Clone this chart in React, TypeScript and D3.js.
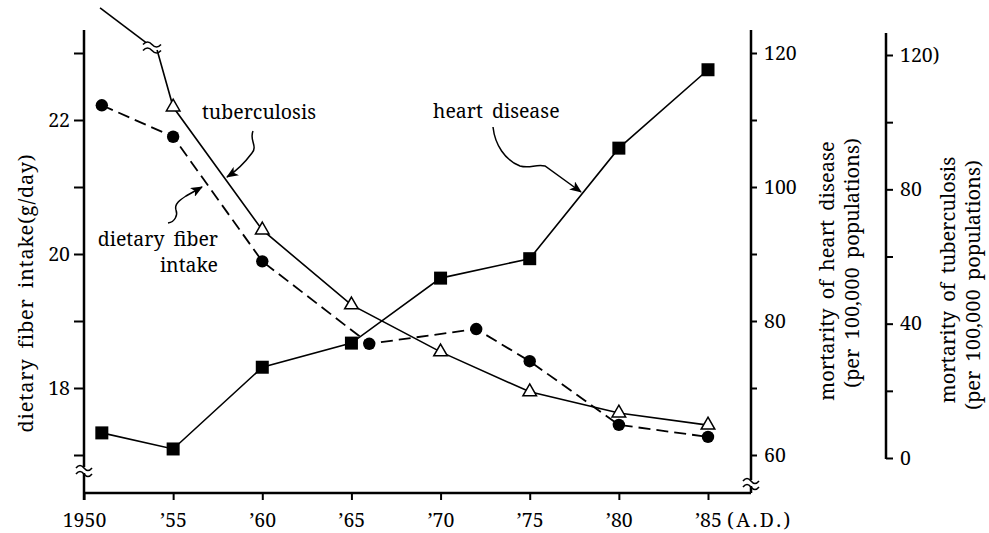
import { useEffect, useRef } from "react";
import * as d3 from "d3";

// values
const years = [1951, 1955, 1960, 1965, 1970, 1975, 1980, 1985];
const heartDisease = [63.3, 60.9, 73.1, 76.7, 86.4, 89.3, 105.8, 117.5];

const fiberYears = [1951, 1955, 1960, 1966, 1972, 1975, 1980, 1985];
const fiberIntake = [22.22, 21.75, 19.89, 18.66, 18.88, 18.4, 17.45, 17.27];

const tbYears = [1955, 1960, 1965, 1970, 1975, 1980, 1985];
const tuberculosis = [104.5, 67.9, 45.6, 31.6, 19.7, 13.4, 9.8];
// early tuberculosis values run off the scale, drawn past a break
const tbUpperYears = [1950.9, 1953.5];
const tbUpperValues = [134, 123.6];
const tbBreakYear = 1954.1;
const tbBreakValue = 121.5;

const xTicks = [1950, 1955, 1960, 1965, 1970, 1975, 1980, 1985];
const fiberTicks = [17, 18, 19, 20, 21, 22, 23];
const fiberLabels = [18, 20, 22];
const heartTicks = [60, 70, 80, 90, 100, 110, 120];
const heartLabels = [60, 80, 100, 120];
const tbTicks = [0, 20, 40, 60, 80, 100, 120];
const tbLabels: Record<number, string> = { 0: "0", 40: "40", 80: "80", 120: "120)" };

const FONT = "Noto Serif";

export default function App() {
  const ref = useRef<SVGSVGElement | null>(null);

  useEffect(() => {
    if (!ref.current) return;
    const width = 989;
    const height = 533;
    const svg = d3.select(ref.current);
    svg.selectAll("*").remove();
    svg.attr("width", width).attr("height", height);

    const x = d3.scaleLinear().domain([1950, 1985]).range([84, 708]);
    const yFiber = d3.scaleLinear().domain([17, 23]).range([455, 53]);
    const yHeart = d3.scaleLinear().domain([60, 120]).range([455, 53]);
    const yTb = d3.scaleLinear().domain([0, 120]).range([458, 55]);

    const axisBottomY = 493;
    const leftX = 84;
    const heartX = 751;
    const tbX = 886;

    const styleAxis = (g: d3.Selection<SVGGElement, unknown, null, undefined>) => {
      g.select(".domain").remove();
      g.selectAll(".tick line").attr("stroke", "#000").attr("stroke-width", 2);
      g.selectAll(".tick text")
        .attr("fill", "#000")
        .attr("font-family", FONT)
        .attr("font-size", 19.5);
    };

    // x axis
    const gx = svg.append("g")
      .attr("transform", `translate(0,${axisBottomY})`)
      .call(d3.axisBottom(x).tickValues(xTicks).tickSize(7).tickPadding(13)
        .tickFormat((d) => (+d === 1950 ? "1950" : "\u2019" + String(+d).slice(2))));
    styleAxis(gx);
    svg.append("line")
      .attr("x1", leftX).attr("x2", heartX)
      .attr("y1", axisBottomY).attr("y2", axisBottomY)
      .attr("stroke", "#000").attr("stroke-width", 2.5);
    svg.append("text")
      .attr("x", 727).attr("y", 527)
      .attr("font-family", FONT).attr("font-size", 19.5)
      .attr("letter-spacing", 2.5)
      .text("(A.D.)");

    // left axis
    const gl = svg.append("g")
      .attr("transform", `translate(${leftX},0)`)
      .call(d3.axisLeft(yFiber).tickValues(fiberTicks).tickSize(10).tickPadding(4)
        .tickFormat((d) => (fiberLabels.includes(+d) ? String(d) : "")));
    styleAxis(gl);
    svg.append("line")
      .attr("x1", leftX).attr("x2", leftX).attr("y1", 30).attr("y2", axisBottomY + 7)
      .attr("stroke", "#000").attr("stroke-width", 2.5);

    // heart disease axis
    const gh = svg.append("g")
      .attr("transform", `translate(${heartX},0)`)
      .call(d3.axisRight(yHeart).tickValues(heartTicks).tickSize(6).tickPadding(7)
        .tickFormat((d) => (heartLabels.includes(+d) ? String(d) : "")));
    styleAxis(gh);
    svg.append("line")
      .attr("x1", heartX).attr("x2", heartX).attr("y1", 30).attr("y2", axisBottomY)
      .attr("stroke", "#000").attr("stroke-width", 2.5);

    // tuberculosis axis
    const gt = svg.append("g")
      .attr("transform", `translate(${tbX},0)`)
      .call(d3.axisRight(yTb).tickValues(tbTicks).tickSize(7).tickPadding(7)
        .tickFormat((d) => tbLabels[+d] ?? ""));
    styleAxis(gt);
    svg.append("line")
      .attr("x1", tbX).attr("x2", tbX).attr("y1", 33).attr("y2", yTb(0) + 1)
      .attr("stroke", "#000").attr("stroke-width", 2.5);

    // axis titles
    const vTitle = (tx: number, ty: number, s: string, ls = 0) =>
      svg.append("text")
        .attr("transform", `translate(${tx},${ty}) rotate(-90)`)
        .attr("text-anchor", "middle")
        .attr("font-family", FONT).attr("font-size", 20)
        .attr("letter-spacing", ls).attr("word-spacing", 4)
        .text(s);
    vTitle(33, 293, "dietary fiber intake(g/day)", 0.8);
    vTitle(834, 271, "mortarity of heart disease");
    vTitle(859, 263, "(per 100,000 populations)");
    vTitle(955, 280, "mortarity of tuberculosis");
    vTitle(980, 285, "(per 100,000 populations)");

    // break marks
    const breakMark = (cx: number, cy: number, hw: number) => {
      svg.append("rect")
        .attr("x", cx - hw).attr("y", cy - 3).attr("width", hw * 2).attr("height", 6)
        .attr("fill", "#fff");
      for (const dy of [-3, 3]) {
        svg.append("path")
          .attr("d", `M${cx - hw},${cy + dy + 1} q${hw / 2},-5 ${hw},0 t${hw},0`)
          .attr("fill", "none").attr("stroke", "#000").attr("stroke-width", 1.6);
      }
    };

    // lines
    const heartPts = years.map((yr, i) => [x(yr), yHeart(heartDisease[i])] as [number, number]);
    const fiberPts = fiberYears.map((yr, i) => [x(yr), yFiber(fiberIntake[i])] as [number, number]);
    const tbPts = tbYears.map((yr, i) => [x(yr), yTb(tuberculosis[i])] as [number, number]);
    const tbUpper = tbUpperYears.map((yr, i) => [x(yr), yTb(tbUpperValues[i])] as [number, number]);
    const line = d3.line();

    svg.append("path").attr("d", line(heartPts))
      .attr("fill", "none").attr("stroke", "#000").attr("stroke-width", 1.6);
    svg.append("path").attr("d", line([[x(tbBreakYear), yTb(tbBreakValue)], ...tbPts]))
      .attr("fill", "none").attr("stroke", "#000").attr("stroke-width", 1.6);
    svg.append("path").attr("d", line(tbUpper))
      .attr("fill", "none").attr("stroke", "#000").attr("stroke-width", 1.6);
    svg.append("path").attr("d", line(fiberPts))
      .attr("fill", "none").attr("stroke", "#000").attr("stroke-width", 1.8)
      .attr("stroke-dasharray", "12,6");

    breakMark(152, 46.5, 9);
    breakMark(leftX, 470, 8);
    breakMark(heartX, 483, 8);

    // markers
    svg.selectAll("rect.sq").data(heartPts).enter().append("rect")
      .attr("class", "sq")
      .attr("x", (d) => d[0] - 6.5).attr("y", (d) => d[1] - 6.5)
      .attr("width", 13).attr("height", 13).attr("fill", "#000");
    svg.selectAll("circle.dot").data(fiberPts).enter().append("circle")
      .attr("class", "dot")
      .attr("cx", (d) => d[0]).attr("cy", (d) => d[1]).attr("r", 6.2).attr("fill", "#000");
    const tri = d3.symbol().type(d3.symbolTriangle).size(80);
    svg.selectAll("path.tri").data(tbPts).enter().append("path")
      .attr("class", "tri")
      .attr("d", tri)
      .attr("transform", (d) => `translate(${d[0]},${d[1]})`)
      .attr("fill", "#fff").attr("stroke", "#000").attr("stroke-width", 1.5);

    // annotations
    const defs = svg.append("defs");
    defs.append("marker")
      .attr("id", "arr").attr("viewBox", "0 0 12 10").attr("refX", 11).attr("refY", 5)
      .attr("markerWidth", 12).attr("markerHeight", 10).attr("markerUnits", "userSpaceOnUse")
      .attr("orient", "auto")
      .append("path").attr("d", "M0,0 L12,5 L0,10 L3,5 Z").attr("fill", "#000");

    const note = (tx: number, ty: number, s: string, anchor = "start") =>
      svg.append("text").attr("x", tx).attr("y", ty)
        .attr("text-anchor", anchor)
        .attr("font-family", FONT).attr("font-size", 19.5)
        .attr("word-spacing", 4)
        .text(s);
    note(202, 119, "tuberculosis");
    note(433, 118, "heart disease");
    note(218, 246, "dietary fiber", "end");
    note(218, 272, "intake", "end");

    const leader = (d: string) =>
      svg.append("path").attr("d", d)
        .attr("fill", "none").attr("stroke", "#000").attr("stroke-width", 1.5)
        .attr("marker-end", "url(#arr)");
    leader("M253,131 C249,140 258,146 252,153 C246,161 238,170 227,177");
    leader("M168,223 C175,222 178,215 176,210 C174,204 180,200 186,196 L202,187");
    leader("M493,127 C495,145 505,160 520,166 C530,169 535,164 545,166 L581,192");
  }, []);

  return <svg ref={ref} style={{ position: "absolute", left: 0, top: 0, background: "#fff" }} />;
}
